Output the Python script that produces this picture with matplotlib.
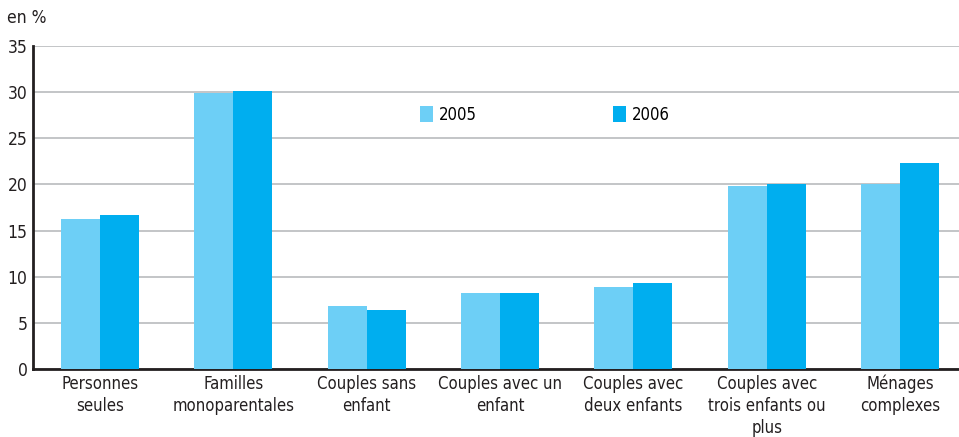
import numpy as np
import matplotlib.pyplot as plt

categories = ["Personnes\nseules", "Familles\nmonoparentales", "Couples sans\nenfant",
              "Couples avec un\nenfant", "Couples avec\ndeux enfants",
              "Couples avec\ntrois enfants ou\nplus", "Ménages\ncomplexes"]
v2005 = [16.3, 29.9, 6.8, 8.2, 8.9, 19.8, 20.0]
v2006 = [16.7, 30.1, 6.4, 8.2, 9.3, 20.0, 22.3]
years = ["2005", "2006"]
yticks = [0, 5, 10, 15, 20, 25, 30, 35]

plt.rcParams['font.family'] = ['DejaVu Sans']
plt.rcParams['font.stretch'] = 'condensed'

fig = plt.figure(figsize=(9.59, 4.37), dpi=100)
ax = fig.add_axes([33/959, 68/437, 1 - 33/959, 323/437])

x = np.arange(len(categories))
w = 0.292
b1 = ax.bar(x - w/2, v2005, w, color="#6dcff6", label=years[0], zorder=3)
b2 = ax.bar(x + w/2, v2006, w, color="#00aeef", label=years[1], zorder=3)

ax.set_ylim(0, 35)
ax.set_xlim(-0.5, 6.44)
ax.set_yticks(yticks)
ax.set_yticklabels([str(t) for t in yticks], fontsize=12.5, color="#231f20")
ax.set_xticks(x)
ax.set_xticklabels(categories, fontsize=12, color="#231f20", linespacing=1.3)
ax.tick_params(axis="both", length=0, pad=4)
ax.yaxis.grid(True, color="#b3b5b8", linewidth=1.1, zorder=0)
ax.set_axisbelow(True)
for s in ["top", "right"]:
    ax.spines[s].set_visible(False)
ax.spines["left"].set_linewidth(2)
ax.spines["left"].set_color("#231f20")
ax.spines["bottom"].set_linewidth(2)
ax.spines["bottom"].set_color("#231f20")

# legend placed as two separate entries
leg_kw = dict(loc="center left", frameon=False, fontsize=12, borderpad=0, borderaxespad=0,
              handlelength=0.8, handleheight=1.1, handletextpad=0.35)
fig.legend(handles=[b1], labels=[years[0]], bbox_to_anchor=(420/959, 1 - 115/437), **leg_kw)
fig.legend(handles=[b2], labels=[years[1]], bbox_to_anchor=(613/959, 1 - 115/437), **leg_kw)

fig.text(7/959, 1 - 18/437, "en %", fontsize=12.5, color="#231f20", va="center", ha="left")

fig.savefig("out.png", dpi=100)
